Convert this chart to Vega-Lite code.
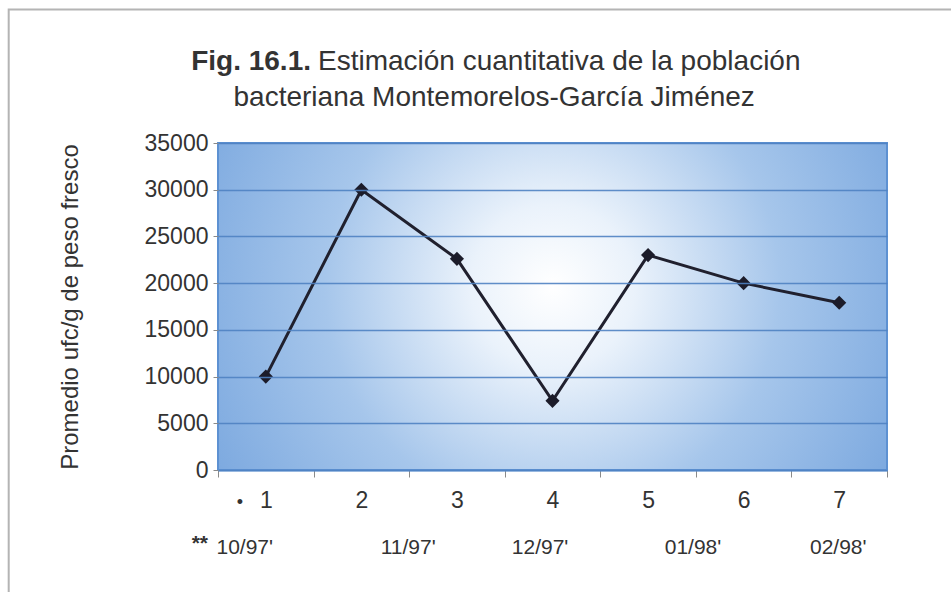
{
  "$schema": "https://vega.github.io/schema/vega-lite/v6.json",
  "width": 669,
  "height": 327,
  "autosize": "none",
  "padding": {"left": 218, "top": 143, "right": 64, "bottom": 122},
  "background": "#ffffff",
  "config": {
    "view": {"stroke": null},
    "font": "Liberation Sans",
    "text": {"font": "Liberation Sans", "color": "#333333"}
  },
  "datasets": {
    "series": [
      {"muestra": 1, "ufc": 10000},
      {"muestra": 2, "ufc": 30000},
      {"muestra": 3, "ufc": 22600},
      {"muestra": 4, "ufc": 7400},
      {"muestra": 5, "ufc": 23000},
      {"muestra": 6, "ufc": 20000},
      {"muestra": 7, "ufc": 17900}
    ],
    "fechas": [
      {"pos": 0.78, "fecha": "10/97'"},
      {"pos": 2.49, "fecha": "11/97'"},
      {"pos": 3.87, "fecha": "12/97'"},
      {"pos": 5.47, "fecha": "01/98'"},
      {"pos": 6.99, "fecha": "02/98'"}
    ]
  },
  "layer": [
    {
      "data": {"values": [{"a": 1}]},
      "mark": {"type": "rect", "fill": null, "stroke": "#b4b4b4", "strokeWidth": 2, "clip": false},
      "encoding": {
        "x": {"datum": -1.69, "type": "quantitative", "scale": {"domain": [0.5, 7.5], "nice": false, "zero": false}},
        "x2": {"datum": 8.6},
        "y": {"datum": 49300, "type": "quantitative"},
        "y2": {"datum": -15000}
      }
    },
    {
      "data": {"values": [{"a": 1}]},
      "mark": {
        "type": "rect",
        "stroke": "#5d91d2",
        "strokeWidth": 2,
        "color": {
          "gradient": "radial",
          "x1": 0.5, "y1": 0.47, "r1": 0,
          "x2": 0.5, "y2": 0.47, "r2": 0.68,
          "stops": [
            {"offset": 0, "color": "#ffffff"},
            {"offset": 0.18, "color": "#eaf2fb"},
            {"offset": 0.5, "color": "#a6c6eb"},
            {"offset": 1, "color": "#6a9cda"}
          ]
        }
      },
      "encoding": {
        "x": {"datum": 0.5, "type": "quantitative"},
        "x2": {"datum": 7.5},
        "y": {"datum": 0, "type": "quantitative"},
        "y2": {"datum": 35000}
      }
    },
    {
      "data": {"name": "series"},
      "mark": {
        "type": "line",
        "color": "#20202e",
        "strokeWidth": 3,
        "point": {"shape": "diamond", "size": 200, "filled": true, "color": "#1c1c2a"}
      },
      "encoding": {
        "x": {
          "field": "muestra",
          "type": "quantitative",
          "scale": {"domain": [0.5, 7.5], "nice": false, "zero": false},
          "axis": {
            "title": null,
            "values": [0.5, 1, 1.5, 2, 2.5, 3, 3.5, 4, 4.5, 5, 5.5, 6, 6.5, 7, 7.5],
            "labelExpr": "datum.value % 1 == 0 ? format(datum.value, 'd') : ''",
            "tickOpacity": {"condition": {"test": "datum.value % 1 != 0", "value": 1}, "value": 0},
            "tickColor": "#8a8a8a",
            "tickSize": 7,
            "tickWidth": 1,
            "domainColor": "#5d91d2",
            "domainWidth": 2,
            "labelFont": "Liberation Sans",
            "labelFontSize": 23,
            "labelColor": "#333333",
            "labelPadding": 12,
            "grid": false
          }
        },
        "y": {
          "field": "ufc",
          "type": "quantitative",
          "scale": {"domain": [0, 35000], "nice": false},
          "axis": {
            "title": "Promedio ufc/g de peso fresco",
            "titleFont": "Liberation Sans",
            "titleFontSize": 24,
            "titleFontWeight": "normal",
            "titleColor": "#333333",
            "titlePadding": 62,
            "values": [0, 5000, 10000, 15000, 20000, 25000, 30000, 35000],
            "format": "d",
            "labelFont": "Liberation Sans",
            "labelFontSize": 23,
            "labelColor": "#333333",
            "labelPadding": 5,
            "tickColor": "#8a8a8a",
            "tickSize": 5,
            "domain": false,
            "grid": true,
            "gridColor": "#4f82c2",
            "gridWidth": 1.5,
            "gridOpacity": 0.9,
            "zindex": 1
          }
        }
      }
    },
    {
      "data": {"name": "fechas"},
      "mark": {"type": "text", "fontSize": 21, "align": "center", "baseline": "middle"},
      "encoding": {
        "x": {"field": "pos", "type": "quantitative"},
        "y": {"datum": -8350, "type": "quantitative"},
        "text": {"field": "fecha"}
      }
    },
    {
      "data": {"values": [{"t": "**"}]},
      "mark": {"type": "text", "fontSize": 21, "fontWeight": "bold", "align": "center", "baseline": "middle"},
      "encoding": {
        "x": {"datum": 0.31, "type": "quantitative"},
        "y": {"datum": -7900, "type": "quantitative"},
        "text": {"field": "t"}
      }
    },
    {
      "data": {"values": [{"t": "•"}]},
      "mark": {"type": "text", "fontSize": 18, "align": "center", "baseline": "middle"},
      "encoding": {
        "x": {"datum": 0.73, "type": "quantitative"},
        "y": {"datum": -3500, "type": "quantitative"},
        "text": {"field": "t"}
      }
    },
    {
      "data": {"values": [{"t": "Fig. 16.1."}]},
      "mark": {"type": "text", "fontSize": 28, "fontWeight": "bold", "align": "right", "baseline": "middle"},
      "encoding": {
        "x": {"datum": 1.473, "type": "quantitative"},
        "y": {"datum": 43670, "type": "quantitative"},
        "text": {"field": "t"}
      }
    },
    {
      "data": {"values": [{"t": "Estimación cuantitativa de la población"}]},
      "mark": {"type": "text", "fontSize": 28, "align": "left", "baseline": "middle", "dx": 7},
      "encoding": {
        "x": {"datum": 1.473, "type": "quantitative"},
        "y": {"datum": 43670, "type": "quantitative"},
        "text": {"field": "t"}
      }
    },
    {
      "data": {"values": [{"t": "bacteriana Montemorelos-García Jiménez"}]},
      "mark": {"type": "text", "fontSize": 28, "align": "center", "baseline": "middle"},
      "encoding": {
        "x": {"datum": 3.39, "type": "quantitative"},
        "y": {"datum": 39800, "type": "quantitative"},
        "text": {"field": "t"}
      }
    }
  ]
}
